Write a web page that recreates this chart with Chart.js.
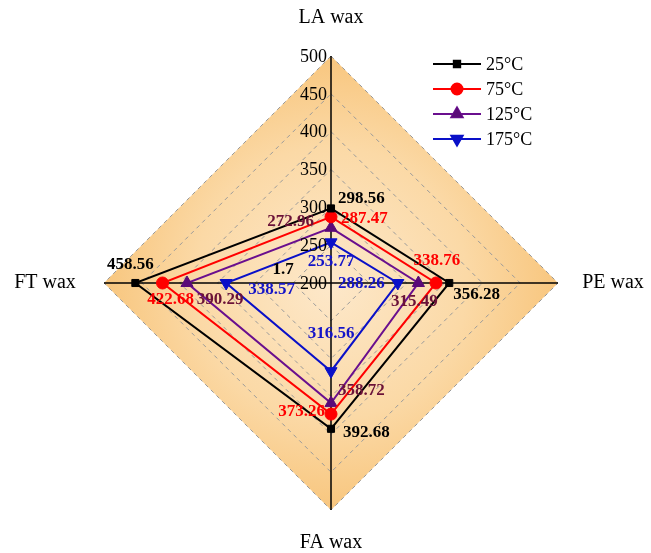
<!DOCTYPE html>
<html>
<head>
<meta charset="utf-8">
<script src="https://cdn.jsdelivr.net/npm/chart.js@4/dist/chart.umd.min.js"></script>
<style>
html,body{margin:0;padding:0;background:#fff;}
#wrap{width:651px;height:553px;position:relative;}
</style>
</head>
<body>
<div id="wrap"><canvas id="c" width="651" height="553"></canvas></div>
<script>
// ---- data ----
const categories = ['LA wax', 'PE wax', 'FA wax', 'FT wax'];
const seriesNames = ['25°C', '75°C', '125°C', '175°C'];
const s25 = [298.56, 356.28, 392.68, 458.56];
const s75 = [287.47, 338.76, 373.26, 422.68];
const s125 = [272.96, 315.49, 358.72, 390.29];
const s175 = [253.77, 288.26, 316.56, 338.57];
const tickLabels = [200, 250, 300, 350, 400, 450, 500];
const extraLabel = '1.7';

// ---- styles ----
const lineColors = ['#000000', '#ff0000', '#6a0f8e', '#0a10c8'];
const markerColors = ['#000000', '#ff0000', '#5a0a78', '#0a10c8'];
const labelColors = ['#000000', '#ff0000', '#6b1238', '#1414c8'];
const pointStyles = ['rect', 'circle', 'triangle', 'triangle'];
const pointRot = [0, 0, 0, 180];
const pointRad = [5, 6, 7, 7];
// label offsets per series per category [dx, dy, align]
const labelOffsets = [
  [[7, -10, 'left'], [4, 12, 'left'], [12, 4, 'left'], [-5, -18, 'center']],
  [[10, 2, 'left'], [1, -22, 'center'], [-6, -2, 'right'], [8, 17, 'center']],
  [[-17, -6, 'right'], [-4, 19, 'center'], [7, -12, 'left'], [33, 17, 'center']],
  [[0, 19, 'center'], [-13, 1, 'right'], [0, -38, 'center'], [22, 7, 'left']]
];

const serif = "'Liberation Serif', 'Times New Roman', serif";
const allSeries = [s25, s75, s125, s175];

const bgPlugin = {
  id: 'bg',
  beforeDraw(chart) {
    const sc = chart.scales.r;
    const ctx = chart.ctx;
    const R = sc.getDistanceFromCenterForValue(sc.max);
    const g = ctx.createRadialGradient(sc.xCenter, sc.yCenter, 0, sc.xCenter, sc.yCenter, R);
    g.addColorStop(0, '#fde8ca');
    g.addColorStop(0.6, '#fbd9a6');
    g.addColorStop(1, '#f8c67e');
    ctx.save();
    ctx.beginPath();
    for (let i = 0; i < categories.length; i++) {
      const p = sc.getPointPosition(i, R);
      if (i === 0) ctx.moveTo(p.x, p.y); else ctx.lineTo(p.x, p.y);
    }
    ctx.closePath();
    ctx.fillStyle = g;
    ctx.fill();
    ctx.restore();
  }
};

const textPlugin = {
  id: 'texts',
  afterDatasetsDraw(chart) {
    const sc = chart.scales.r;
    const ctx = chart.ctx;
    ctx.save();
    // tick labels, left of top axis
    ctx.font = '18px ' + serif;
    ctx.fillStyle = '#000';
    ctx.textAlign = 'right';
    ctx.textBaseline = 'middle';
    tickLabels.forEach(v => {
      const d = sc.getDistanceFromCenterForValue(v);
      ctx.fillText(String(v), sc.xCenter - 4, sc.yCenter - d + 1);
    });
    // category labels
    ctx.font = '20px ' + serif;
    ctx.textAlign = 'center';
    const R = sc.getDistanceFromCenterForValue(sc.max);
    const catOff = [[0, -38], [55, 0], [0, 33], [-59, 0]];
    categories.forEach((c, i) => {
      const p = sc.getPointPosition(i, R);
      ctx.fillText(c, p.x + catOff[i][0], p.y + catOff[i][1]);
    });
    // data labels
    ctx.font = 'bold 17px ' + serif;
    chart.data.datasets.forEach((ds, di) => {
      const meta = chart.getDatasetMeta(di);
      ctx.fillStyle = labelColors[di];
      meta.data.forEach((pt, i) => {
        const o = labelOffsets[di][i];
        ctx.textAlign = o[2];
        ctx.fillText(ds.data[i].toFixed(2), pt.x + o[0], pt.y + o[1]);
      });
    });
    // stray label
    ctx.fillStyle = '#000';
    ctx.textAlign = 'center';
    ctx.fillText(extraLabel, sc.xCenter - 48, sc.yCenter - 13);
    // legend
    const lx = 433, ly = 64, gap = 25;
    chart.data.datasets.forEach((ds, di) => {
      const y = ly + di * gap;
      ctx.strokeStyle = lineColors[di];
      ctx.lineWidth = 2;
      ctx.beginPath(); ctx.moveTo(lx, y); ctx.lineTo(lx + 48, y); ctx.stroke();
      Chart.helpers.drawPoint(ctx, {
        pointStyle: pointStyles[di], rotation: pointRot[di], radius: pointRad[di] - 0.5, borderWidth: 1
      }, lx + 24, y);
      ctx.fillStyle = markerColors[di];
      ctx.fill();
      ctx.fillStyle = '#000';
      ctx.font = '18px ' + serif;
      ctx.textAlign = 'left';
      ctx.fillText(ds.label, lx + 53, y + 1);
    });
    ctx.restore();
  }
};

const datasets = allSeries.map((s, i) => ({
  label: seriesNames[i],
  data: s,
  borderColor: lineColors[i],
  backgroundColor: 'transparent',
  borderWidth: 2,
  fill: false,
  pointStyle: pointStyles[i],
  pointRotation: pointRot[i],
  pointRadius: pointRad[i],
  pointBackgroundColor: markerColors[i],
  pointBorderColor: markerColors[i],
  pointBorderWidth: 1,
  tension: 0
}));

new Chart(document.getElementById('c'), {
  type: 'radar',
  data: { labels: categories, datasets },
  options: {
    responsive: false,
    animation: false,
    layout: { padding: { left: 104, right: 93, top: 56, bottom: 43 } },
    plugins: { legend: { display: false }, tooltip: { enabled: false } },
    elements: { line: { borderJoinStyle: 'miter' } },
    scales: {
      r: {
        min: 200, max: 500,
        ticks: { stepSize: 50, display: false },
        pointLabels: { display: false },
        grid: { color: '#9a9a9a', lineWidth: 1 },
        border: { dash: [4, 4] },
        angleLines: { color: '#000', lineWidth: 1.5 }
      }
    }
  },
  plugins: [bgPlugin, textPlugin]
});
</script>
</body>
</html>
